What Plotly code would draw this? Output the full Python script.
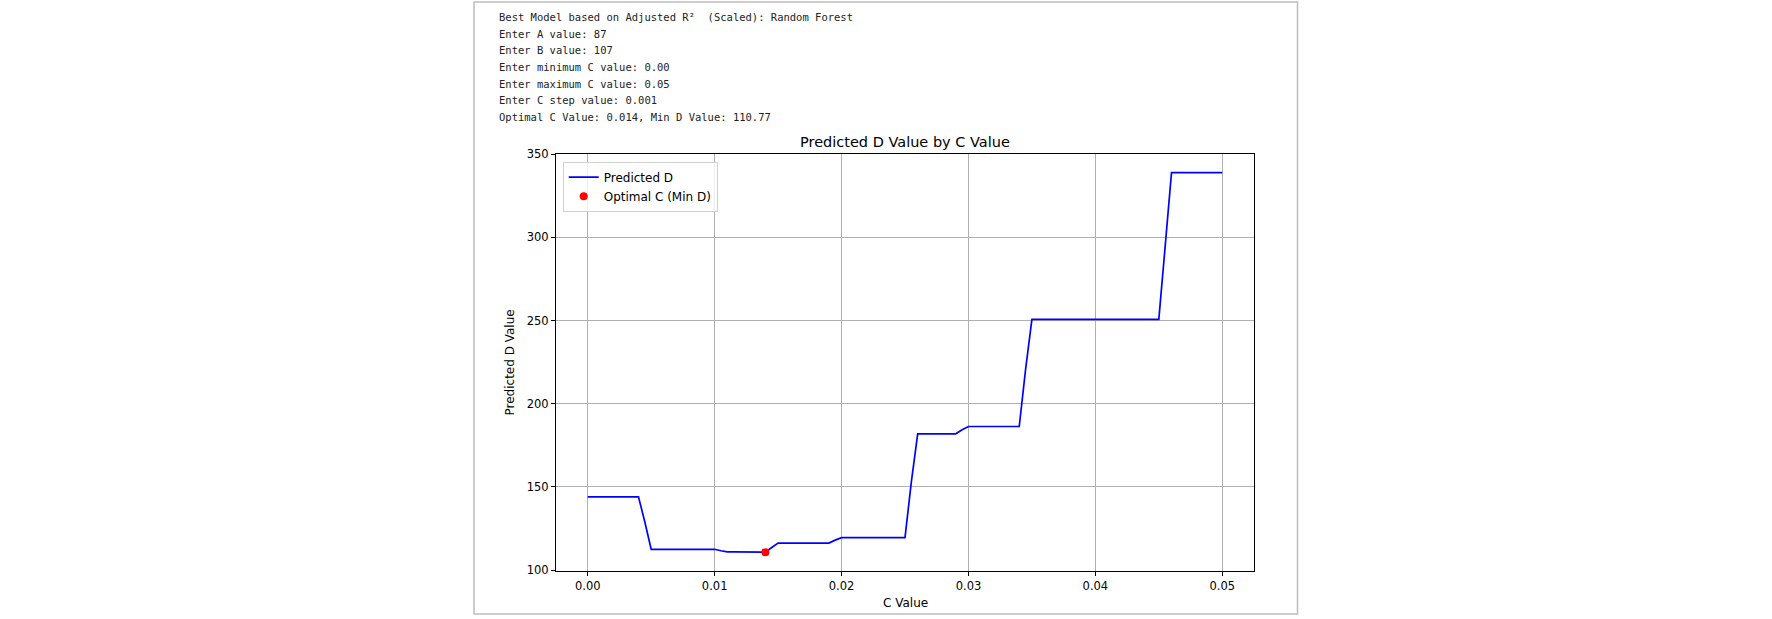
import plotly.graph_objects as go

# ---- data ----
c_values = [
    0.0000, 0.0005, 0.0010, 0.0015, 0.0020, 0.0025, 0.0030, 0.0035, 0.0040, 0.0045,
    0.0050, 0.0055, 0.0060, 0.0065, 0.0070, 0.0075, 0.0080, 0.0085, 0.0090, 0.0095,
    0.0100, 0.0105, 0.0110, 0.0115, 0.0120, 0.0125, 0.0130, 0.0135, 0.0140, 0.0145,
    0.0150, 0.0155, 0.0160, 0.0165, 0.0170, 0.0175, 0.0180, 0.0185, 0.0190, 0.0195,
    0.0200, 0.0205, 0.0210, 0.0215, 0.0220, 0.0225, 0.0230, 0.0235, 0.0240, 0.0245,
    0.0250, 0.0255, 0.0260, 0.0265, 0.0270, 0.0275, 0.0280, 0.0285, 0.0290, 0.0295,
    0.0300, 0.0305, 0.0310, 0.0315, 0.0320, 0.0325, 0.0330, 0.0335, 0.0340, 0.0345,
    0.0350, 0.0355, 0.0360, 0.0365, 0.0370, 0.0375, 0.0380, 0.0385, 0.0390, 0.0395,
    0.0400, 0.0405, 0.0410, 0.0415, 0.0420, 0.0425, 0.0430, 0.0435, 0.0440, 0.0445,
    0.0450, 0.0455, 0.0460, 0.0465, 0.0470, 0.0475, 0.0480, 0.0485, 0.0490, 0.0495,
    0.0500,
]
d_values = [
    144.0, 144.0, 144.0, 144.0, 144.0, 144.0, 144.0, 144.0, 144.0, 128.9,
    112.5, 112.5, 112.5, 112.5, 112.5, 112.5, 112.5, 112.5, 112.5, 112.5,
    112.5, 111.6, 110.9, 110.9, 110.9, 110.9, 110.9, 110.9, 110.77, 113.6,
    116.2, 116.2, 116.2, 116.2, 116.2, 116.2, 116.2, 116.2, 116.2, 118.0,
    119.5, 119.5, 119.5, 119.5, 119.5, 119.5, 119.5, 119.5, 119.5, 119.5,
    119.5, 153.0, 181.9, 181.9, 181.9, 181.9, 181.9, 181.9, 181.9, 184.3,
    186.3, 186.3, 186.3, 186.3, 186.3, 186.3, 186.3, 186.3, 186.3, 220.5,
    250.7, 250.7, 250.7, 250.7, 250.7, 250.7, 250.7, 250.7, 250.7, 250.7,
    250.7, 250.7, 250.7, 250.7, 250.7, 250.7, 250.7, 250.7, 250.7, 250.7,
    250.7, 294.5, 338.8, 338.8, 338.8, 338.8, 338.8, 338.8, 338.8, 338.8,
    338.8,
]
optimal_c = [0.014]
optimal_d = [110.77]

x_ticks = [0.00, 0.01, 0.02, 0.03, 0.04, 0.05]
x_tick_labels = ["0.00", "0.01", "0.02", "0.03", "0.04", "0.05"]
y_ticks = [100, 150, 200, 250, 300, 350]
y_tick_labels = ["100", "150", "200", "250", "300", "350"]

console_lines = [
    "Best Model based on Adjusted R²  (Scaled): Random Forest",
    "Enter A value: 87",
    "Enter B value: 107",
    "Enter minimum C value: 0.00",
    "Enter maximum C value: 0.05",
    "Enter C step value: 0.001",
    "Optimal C Value: 0.014, Min D Value: 110.77",
]

# ---- layout geometry (pixels) ----
W, H = 1772, 619
PL, PR, PT, PB = 556, 1254, 154, 571   # plot area edges


def px(xp):
    return (xp - PL) / (PR - PL)


def py(yp):
    return (PB - yp) / (PB - PT)


FONT = "DejaVu Sans"
MONO = "DejaVu Sans Mono"

fig = go.Figure()
fig.add_trace(go.Scatter(
    x=c_values, y=d_values, mode="lines", name="Predicted D",
    line=dict(color="#0000ff", width=1.7),
))
fig.add_trace(go.Scatter(
    x=optimal_c, y=optimal_d, mode="markers", name="Optimal C (Min D)",
    marker=dict(color="#ff0000", size=8),
))

annotations = []
# title
annotations.append(dict(
    text="Predicted D Value by C Value", xref="paper", yref="paper",
    x=0.5, y=py(141.7), xanchor="center", yanchor="middle", showarrow=False,
    font=dict(family=FONT, size=14.5, color="#000000"),
))
# axis titles
annotations.append(dict(
    text="C Value", xref="paper", yref="paper",
    x=0.5, y=py(603), xanchor="center", yanchor="middle", showarrow=False,
    font=dict(family=FONT, size=12, color="#000000"),
))
annotations.append(dict(
    text="Predicted D Value", xref="paper", yref="paper",
    x=px(509), y=0.5, xanchor="center", yanchor="middle", showarrow=False,
    textangle=-90, font=dict(family=FONT, size=12, color="#000000"),
))
# console text
for i, line in enumerate(console_lines):
    annotations.append(dict(
        text=line, xref="paper", yref="paper",
        x=px(496.5), y=py(16.8 + 16.7 * i), xanchor="left", yanchor="middle",
        showarrow=False,
        font=dict(family=MONO, size=10.5, color="#222222"),
    ))

shapes = [dict(
    type="rect", xref="paper", yref="paper",
    x0=px(474), x1=px(1297.5), y0=py(614), y1=py(2),
    line=dict(color="#bdbdbd", width=1.5), fillcolor="rgba(0,0,0,0)",
)]

axis_common = dict(
    showgrid=True, gridcolor="#b0b0b0", gridwidth=1,
    showline=True, linecolor="#000000", linewidth=1, mirror=True,
    ticks="outside", ticklen=4, tickwidth=1, tickcolor="#000000",
    zeroline=False,
    tickfont=dict(family=FONT, size=11.5, color="#000000"),
)

fig.update_layout(
    width=W, height=H, autosize=False,
    margin=dict(l=PL, r=W - PR, t=PT, b=H - PB, pad=0),
    paper_bgcolor="white", plot_bgcolor="white",
    showlegend=True,
    legend=dict(
        x=px(562.7), y=py(161.7), xanchor="left", yanchor="top",
        bgcolor="rgba(255,255,255,0.8)", bordercolor="#d0d0d0", borderwidth=1,
        font=dict(family=FONT, size=12, color="#000000"),
        tracegroupgap=0, itemwidth=30,
    ),
    xaxis=dict(range=[-0.0025, 0.0525], tickvals=x_ticks, ticktext=x_tick_labels,
               **axis_common),
    yaxis=dict(range=[99.45, 350.05], tickvals=y_ticks, ticktext=y_tick_labels,
               **axis_common),
    annotations=annotations,
    shapes=shapes,
)

fig.write_html(
    "out.html",
    config={"displayModeBar": False},
    post_script="document.body.style.margin='0';document.body.style.overflow='hidden';",
)
